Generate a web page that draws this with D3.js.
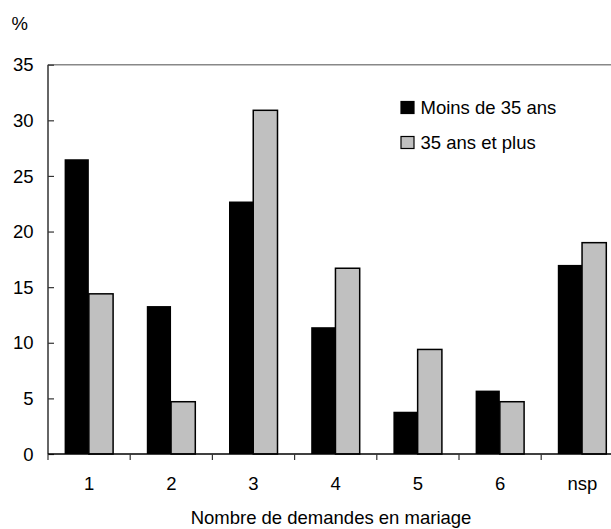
<!DOCTYPE html>
<html><head><meta charset="utf-8">
<script src="https://cdn.jsdelivr.net/npm/d3@7"></script>
<style>body{margin:0;background:#fff}svg{display:block;font-family:"Liberation Sans",Arial,sans-serif}</style>
</head><body>
<svg id="c" width="611" height="529"></svg>
<script>
const categories = ["1","2","3","4","5","6","nsp"];
const seriesNames = ["Moins de 35 ans","35 ans et plus"];
const moins35 = [26.5,13.3,22.7,11.4,3.8,5.7,17.0];
const plus35 = [14.4,4.7,30.9,16.7,9.4,4.7,19.0];
const yTicks = [0,5,10,15,20,25,30,35];
const colors = ["#000000","#c0c0c0"];

const svg = d3.select("#c");
const mLeft = 48, mTop = 64.7, mBottom = 454, catW = 82.2;
const mRight = mLeft + catW * categories.length;
const fs = "18.5px";

const x = d3.scaleBand().domain(categories).range([mLeft, mRight]).paddingInner(0).paddingOuter(0);
const y = d3.scaleLinear().domain([0,35]).range([mBottom, mTop]);
const x1 = d3.scaleBand().domain([0,1]).range([-24.5, 24]).padding(0);

// top border line
svg.append("line").attr("x1",mLeft).attr("x2",mRight).attr("y1",y(35)).attr("y2",y(35))
  .attr("stroke","#888").attr("stroke-width",1.5);

// bars
const data = categories.map((c,i)=>({c, v:[moins35[i], plus35[i]]}));
const g = svg.append("g");
data.forEach(d=>{
  const cx = x(d.c) + x.bandwidth()/2;
  d.v.forEach((v,k)=>{
    g.append("rect")
      .attr("x", cx + x1(k)).attr("width", x1.bandwidth())
      .attr("y", y(v)).attr("height", y(0)-y(v))
      .attr("fill", colors[k]).attr("stroke", k===1?"#000":"none").attr("stroke-width", 1.5);
  });
});

// y axis
const yAxis = svg.append("g").attr("transform",`translate(${mLeft},0)`)
  .call(d3.axisRight(y).tickValues(yTicks).tickSize(6).tickFormat(""));
yAxis.select(".domain").attr("stroke","#333").attr("stroke-width",1.5).attr("d",`M0,${y(35)}V${mBottom}`);
yAxis.selectAll(".tick line").attr("stroke","#333").attr("stroke-width",1.2);
svg.append("g").selectAll("text").data(yTicks).join("text")
  .attr("x",33.5).attr("y",d=>y(d)).attr("dy","0.36em").attr("text-anchor","end")
  .attr("font-size",fs).attr("fill","#000").text(d=>d);

// x axis
const xAxis = svg.append("g").attr("transform",`translate(0,${mBottom})`)
  .call(d3.axisBottom(x).tickSize(0).tickFormat(""));
xAxis.select(".domain").attr("stroke","#000").attr("stroke-width",1.5).attr("d",`M${mLeft},0H${mRight}`);
xAxis.selectAll(".tick").remove();
const bounds = d3.range(0, categories.length+1).map(i=> mLeft + i*x.step());
svg.append("g").selectAll("line").data(bounds).join("line")
  .attr("x1",d=>d).attr("x2",d=>d).attr("y1",mBottom).attr("y2",mBottom+6)
  .attr("stroke","#333").attr("stroke-width",1.2);
svg.append("g").selectAll("text").data(categories).join("text")
  .attr("x",d=>x(d)+x.bandwidth()/2).attr("y",490).attr("text-anchor","middle")
  .attr("font-size",fs).attr("fill","#000").text(d=>d);

// axis titles
svg.append("text").attr("x",331).attr("y",524).attr("text-anchor","middle")
  .attr("font-size",fs).text("Nombre de demandes en mariage");
svg.append("text").attr("x",11.5).attr("y",30).attr("font-size",fs).text("%");

// legend
const leg = svg.append("g");
seriesNames.forEach((n,k)=>{
  const yy = 101.5 + k*35;
  leg.append("rect").attr("x",401).attr("y",yy).attr("width",13).attr("height",12)
    .attr("fill",colors[k]).attr("stroke","#000").attr("stroke-width",1.2);
  leg.append("text").attr("x",420.5).attr("y",yy+12).attr("font-size",fs).text(n);
});
</script>
</body></html>
